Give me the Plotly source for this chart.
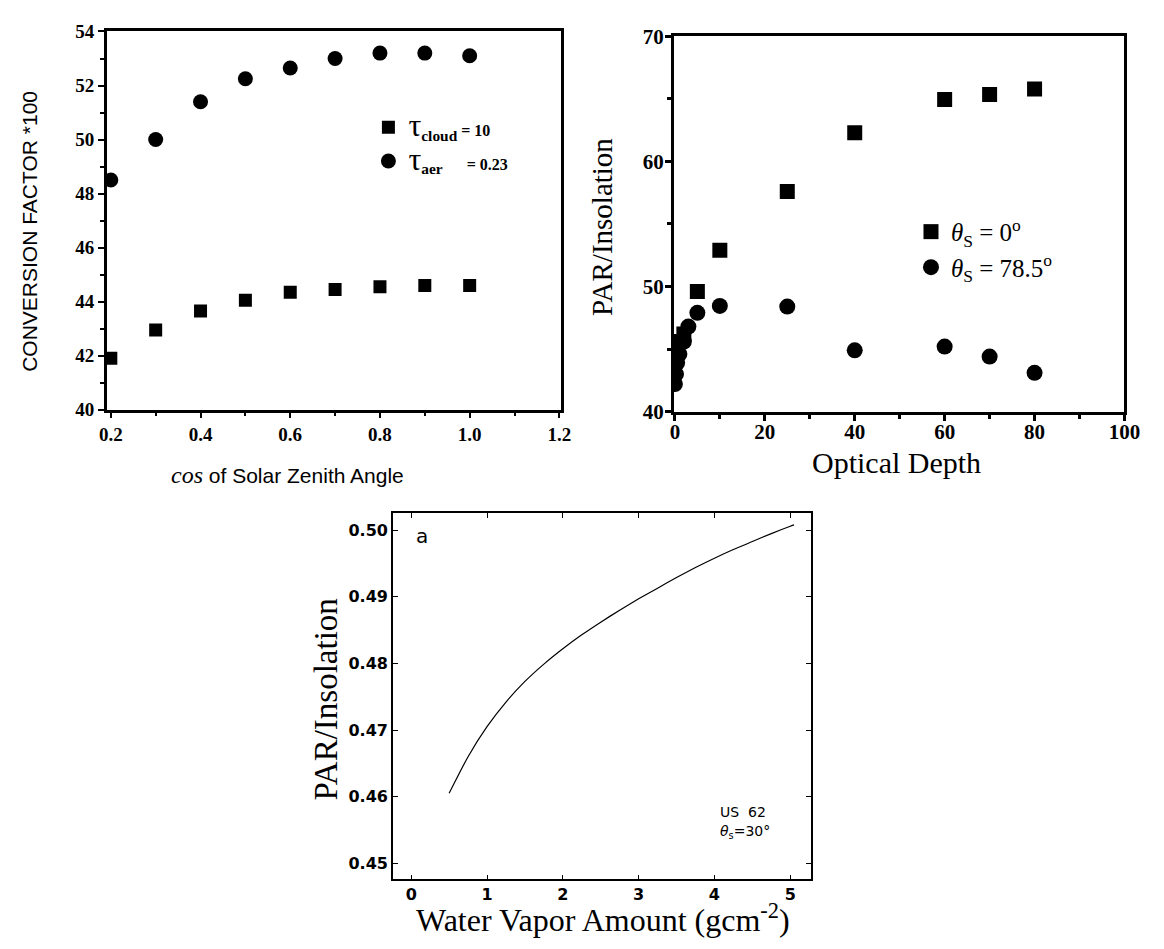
import plotly.graph_objects as go

# ---------------- data ----------------
# panel 1: conversion factor vs cos(SZA)
cos_sza = [0.2, 0.3, 0.4, 0.5, 0.6, 0.7, 0.8, 0.9, 1.0]
conv_cloud = [41.9, 42.95, 43.65, 44.05, 44.35, 44.45, 44.55, 44.6, 44.6]
conv_aer = [48.5, 50.0, 51.4, 52.25, 52.65, 53.0, 53.2, 53.2, 53.1]

# panel 2: PAR/Insolation vs optical depth
od_sq = [0, 0.5, 1, 2, 5, 10, 25, 40, 60, 70, 80]
par_sq = [44.3, 45.0, 45.6, 46.2, 49.6, 52.9, 57.6, 62.3, 64.95, 65.35, 65.8]
od_ci = [0, 0.25, 0.5, 1, 2, 3, 5, 10, 25, 40, 60, 70, 80]
par_ci = [42.2, 43.0, 43.9, 44.6, 45.6, 46.8, 47.9, 48.45, 48.4, 44.9, 45.2, 44.4, 43.1]

# panel 3: PAR/Insolation vs water vapour
wv = [0.5, 0.75, 1.0, 1.25, 1.5, 1.75, 2.0, 2.25, 2.5, 2.75, 3.0,
      3.25, 3.5, 3.75, 4.0, 4.25, 4.5, 4.75, 5.0, 5.05]
par_wv = [0.4605, 0.4660, 0.4705, 0.4742, 0.4773, 0.4799, 0.4822, 0.4843, 0.4862, 0.4880, 0.4897,
          0.4913, 0.4929, 0.4944, 0.4958, 0.4971, 0.4983, 0.4995, 0.5006, 0.5008]

W, H = 1164, 949
def px(x):
    return x / W
def py(y):
    return 1 - y / H

SERIF = "Liberation Serif"
SANS = "Liberation Sans"

fig = go.Figure()

# panel 1 traces
fig.add_trace(go.Scatter(
    x=cos_sza, y=conv_cloud, mode="markers",
    marker=dict(symbol="square", size=13, color="black"),
    name='<span style="font-size:32px;font-weight:normal">τ</span><sub>cloud</sub><span style="font-size:16px"> = 10</span>',
    xaxis="x", yaxis="y", legend="legend", legendgroup="g1"))
fig.add_trace(go.Scatter(
    x=cos_sza, y=conv_aer, mode="markers",
    marker=dict(symbol="circle", size=15, color="black"),
    name='<span style="font-size:32px;font-weight:normal">τ</span><sub>aer</sub><span style="font-size:16px">      = 0.23</span>',
    xaxis="x", yaxis="y", legend="legend", legendgroup="g2"))

# panel 2 traces
fig.add_trace(go.Scatter(
    x=od_sq, y=par_sq, mode="markers",
    marker=dict(symbol="square", size=15, color="black"),
    name="<i>θ</i><sub>S</sub> = 0<sup>o</sup>",
    xaxis="x2", yaxis="y2", legend="legend2", legendgroup="g3"))
fig.add_trace(go.Scatter(
    x=od_ci, y=par_ci, mode="markers",
    marker=dict(symbol="circle", size=16, color="black"),
    name="<i>θ</i><sub>S</sub> = 78.5<sup>o</sup>",
    xaxis="x2", yaxis="y2", legend="legend2", legendgroup="g4"))

# panel 3 trace
fig.add_trace(go.Scatter(
    x=wv, y=par_wv, mode="lines", line=dict(color="black", width=1.2, shape="spline", smoothing=0.6),
    showlegend=False, xaxis="x3", yaxis="y3"))

ax1_common = dict(showline=True, linecolor="black", linewidth=2.5, mirror=True,
                  ticks="outside", tickcolor="black", tickwidth=2, ticklen=6,
                  showgrid=False, zeroline=False,
                  tickfont=dict(family=SERIF, size=19, color="black", weight=700))
ax2_common = dict(showline=True, linecolor="black", linewidth=3, mirror=True,
                  ticks="outside", tickcolor="black", tickwidth=2.5, ticklen=6,
                  showgrid=False, zeroline=False,
                  tickfont=dict(family=SERIF, size=21, color="black", weight=700))
ax3_common = dict(showline=True, linecolor="black", linewidth=1.5, mirror="ticks",
                  ticks="inside", tickcolor="black", tickwidth=1.2, ticklen=5,
                  showgrid=False, zeroline=False,
                  tickfont=dict(family="DejaVu Sans", size=16, color="black", weight="bold"))

fig.update_layout(
    width=W, height=H, margin=dict(l=0, r=0, t=0, b=0),
    paper_bgcolor="white", plot_bgcolor="white",
    xaxis=dict(domain=[px(101), px(565)], range=[0.1913, 1.2044], anchor="y",
               tick0=0.2, dtick=0.2, tickformat=".1f",
               minor=dict(dtick=0.1, tick0=0.2, ticks="outside", ticklen=4, tickwidth=2, tickcolor="black"),
               **ax1_common),
    yaxis=dict(domain=[py(408), py(20)], range=[40, 54], anchor="x",
               dtick=2,
               minor=dict(dtick=1, ticks="outside", ticklen=4, tickwidth=2, tickcolor="black"),
               **ax1_common),
    xaxis2=dict(domain=[px(680), px(1140)], range=[-0.2, 100], anchor="y2",
                dtick=20, ticklabelstandoff=-7,
                minor=dict(dtick=10, ticks="outside", ticklen=4, tickwidth=2.5, tickcolor="black"),
                **ax2_common),
    yaxis2=dict(domain=[py(410), py(25)], range=[40, 70], anchor="x2",
                dtick=10, ticklabelstandoff=-3,
                minor=dict(dtick=5, ticks="outside", ticklen=4, tickwidth=2.5, tickcolor="black"),
                **ax2_common),
    xaxis3=dict(domain=[px(393), px(820)], range=[-0.2416, 5.275], anchor="y3",
                dtick=1, **ax3_common),
    yaxis3=dict(domain=[py(890), py(514)], range=[0.44756, 0.50259], anchor="x3",
                dtick=0.01, tickformat=".2f", **ax3_common),
    legend=dict(x=px(368), y=py(97), xanchor="left", yanchor="top",
                bgcolor="rgba(0,0,0,0)", tracegroupgap=2, itemsizing="trace",
                font=dict(family=SERIF, size=22, color="black", weight="bold")),
    legend2=dict(x=px(922), y=py(202), xanchor="left", yanchor="top",
                 bgcolor="rgba(0,0,0,0)", tracegroupgap=0, itemsizing="trace",
                 font=dict(family=SERIF, size=25, color="black")),
)

annots = [
    dict(text="CONVERSION FACTOR *100", x=px(22), y=py(225), textangle=-90,
         font=dict(family=SANS, size=21, color="black")),
    dict(text='<i><span style="font-family:Liberation Serif;font-size:24px">cos</span></i> of Solar Zenith Angle',
         x=px(285), y=py(475), font=dict(family=SANS, size=21, color="black")),
    dict(text="PAR/Insolation", x=px(607), y=py(220), textangle=-90,
         font=dict(family=SERIF, size=29, color="black")),
    dict(text="Optical Depth", x=px(907), y=py(462),
         font=dict(family=SERIF, size=30, color="black")),
    dict(text="PAR/Insolation", x=px(325), y=py(705), textangle=-90,
         font=dict(family=SERIF, size=33, color="black")),
    dict(text="Water Vapor Amount (gcm<sup>-2</sup>)", x=px(608), y=py(930),
         font=dict(family=SERIF, size=32, color="black")),
    dict(text="a", x=px(423), y=py(538),
         font=dict(family="DejaVu Sans", size=20, color="black")),
    dict(text="US  62", x=px(725), y=py(821), xanchor="left",
         font=dict(family="DejaVu Sans", size=14, color="black")),
    dict(text="<i>θ</i><sub>s</sub>=30°", x=px(725), y=py(841), xanchor="left",
         font=dict(family="DejaVu Sans", size=14, color="black")),
]
for a in annots:
    a.setdefault("xanchor", "center")
    a.update(xref="paper", yref="paper", showarrow=False, yanchor="middle")
    fig.add_annotation(**a)

fig.write_html("out.html")
